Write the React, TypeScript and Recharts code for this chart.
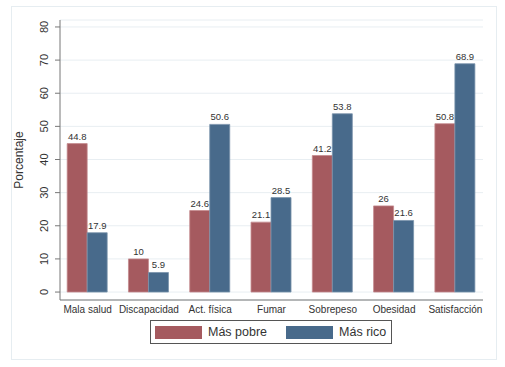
// Health indicators by income group — Stata-style grouped bar chart.
import { BarChart, Bar, XAxis, YAxis, CartesianGrid, LabelList } from "recharts";

const CATEGORIES = [
  "Mala salud",
  "Discapacidad",
  "Act. física",
  "Fumar",
  "Sobrepeso",
  "Obesidad",
  "Satisfacción",
];
const MAS_POBRE = [44.8, 10, 24.6, 21.1, 41.2, 26, 50.8];
const MAS_RICO = [17.9, 5.9, 50.6, 28.5, 53.8, 21.6, 68.9];
const Y_TICKS = [0, 10, 20, 30, 40, 50, 60, 70, 80];

const SERIES = [
  { key: "pobre", name: "Más pobre", color: "#a55a5f", edge: "#c48a8e" },
  { key: "rico", name: "Más rico", color: "#486a8b", edge: "#7a93ab" },
];

const data = CATEGORIES.map((c, i) => ({
  cat: c,
  pobre: MAS_POBRE[i],
  rico: MAS_RICO[i],
}));

const FONT = "'Liberation Sans', Arial, Helvetica, sans-serif";
const TEXT = "#333";

// Stata prints y tick labels rotated to run along the axis.
function YTick({ x, y, payload }: any) {
  const bx = x - 5;
  return (
    <text
      x={bx}
      y={y}
      transform={`rotate(-90 ${bx} ${y})`}
      textAnchor="middle"
      fontSize={11}
      fill={TEXT}
      fontFamily={FONT}
    >
      {payload.value}
    </text>
  );
}

function YTitle({ viewBox }: any) {
  const x = viewBox.x + 23;
  const y = viewBox.y + viewBox.height / 2;
  return (
    <text
      x={x}
      y={y}
      transform={`rotate(-90 ${x} ${y})`}
      textAnchor="middle"
      fontSize={12}
      fill={TEXT}
      fontFamily={FONT}
    >
      Porcentaje
    </text>
  );
}

export default function App() {
  return (
    <div
      style={{
        position: "absolute",
        left: 0,
        top: 0,
        width: 505,
        height: 367,
        background: "#fff",
        fontFamily: FONT,
      }}
    >
      {/* outer graph region frame */}
      <div
        style={{
          position: "absolute",
          left: 11,
          top: 6,
          width: 484,
          height: 352,
          border: "1px solid #e6edf1",
        }}
      />
      <BarChart
        width={505}
        height={367}
        data={data}
        margin={{ top: 20, right: 22, bottom: 37, left: 0 }}
        barCategoryGap="16.6%"
        barGap={0}
        style={{ position: "absolute", left: 0, top: 0 }}
      >
        <CartesianGrid vertical={false} stroke="#e8eef2" />
        <XAxis
          dataKey="cat"
          height={30}
          padding={{ left: -3, right: -3 }}
          tickLine={false}
          tickSize={0}
          tickMargin={6}
          axisLine={{ stroke: "#777" }}
          tick={{ fontSize: 10, fill: TEXT, fontFamily: FONT }}
          interval={0}
        />
        <YAxis
          width={60}
          domain={[-2.4, 82.1]}
          ticks={Y_TICKS}
          allowDataOverflow
          tickSize={5}
          tickMargin={2}
          tickLine={{ stroke: "#777" }}
          axisLine={{ stroke: "#777" }}
          tick={<YTick />}
          label={<YTitle />}
        />
        {SERIES.map((s) => (
          <Bar
            key={s.key}
            dataKey={s.key}
            name={s.name}
            fill={s.color}
            stroke={s.edge}
            strokeWidth={0.8}
            isAnimationActive={false}
          >
            <LabelList
              dataKey={s.key}
              position="top"
              offset={4}
              style={{ fontSize: 9.5, fill: TEXT, fontFamily: FONT }}
            />
          </Bar>
        ))}
      </BarChart>
      {/* legend */}
      <div
        style={{
          position: "absolute",
          left: 150,
          top: 320,
          width: 240,
          height: 22,
          border: "1px solid #555",
          display: "flex",
          alignItems: "center",
          boxSizing: "content-box",
        }}
      >
        {SERIES.map((s, i) => (
          <div
            key={s.key}
            style={{
              display: "flex",
              alignItems: "center",
              marginLeft: i === 0 ? 4 : 19,
            }}
          >
            <div style={{ width: 47, height: 13, background: s.color }} />
            <span style={{ marginLeft: 6, fontSize: 12.5, color: TEXT }}>
              {s.name}
            </span>
          </div>
        ))}
      </div>
    </div>
  );
}
